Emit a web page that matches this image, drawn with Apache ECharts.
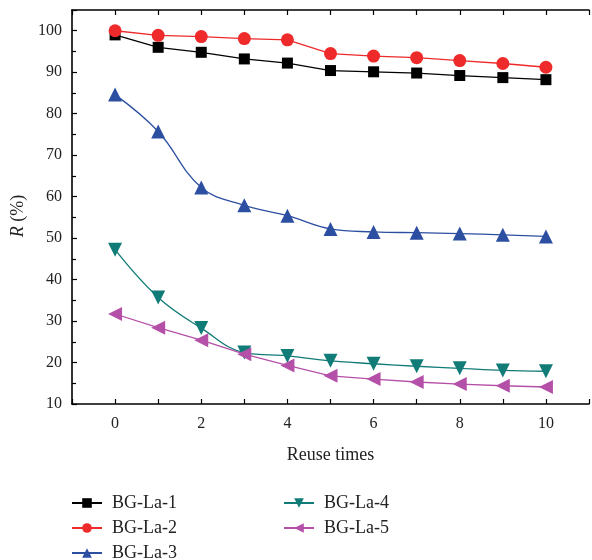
<!DOCTYPE html>
<html><head><meta charset="utf-8">
<script src="https://cdn.jsdelivr.net/npm/echarts@6/dist/echarts.min.js"></script>
<style>html,body{margin:0;padding:0;background:#fff}#c{width:592px;height:560px}</style>
</head><body><div id="c"></div>
<script>
const reuseTimes = [0,1,2,3,4,5,6,7,8,9,10];
const seriesNames = ['BG-La-1','BG-La-2','BG-La-3','BG-La-4','BG-La-5'];
const la1 = [99.0, 96.0, 94.8, 93.2, 92.2, 90.4, 90.1, 89.8, 89.2, 88.7, 88.2];
const la2 = [100.0, 98.9, 98.6, 98.1, 97.8, 94.5, 93.9, 93.5, 92.8, 92.1, 91.2];
const la3 = [84.6, 75.7, 62.2, 57.9, 55.4, 52.2, 51.5, 51.3, 51.1, 50.8, 50.4];
const la4 = [47.2, 35.7, 28.3, 22.4, 21.6, 20.4, 19.7, 19.1, 18.6, 18.1, 17.9];
const la5 = [31.7, 28.4, 25.4, 22.0, 19.3, 16.8, 16.0, 15.3, 14.8, 14.4, 14.1];
const yTickLabels = [10,20,30,40,50,60,70,80,90,100];
const xTickLabels = [0,2,4,6,8,10];

const font = 'Liberation Serif';
const pair = arr => reuseTimes.map((x,i)=>[x,arr[i]]);
const chart = echarts.init(document.getElementById('c'));
const axisCommon = {
  axisLine:{show:true,onZero:false,lineStyle:{color:'#000',width:1.6}},
  axisTick:{show:true,inside:true,length:5,lineStyle:{color:'#000',width:1.2}},
  splitLine:{show:false}
};
function mk(name, data, color, symbol, size, rot, smooth){
  return {name, type:'line', data:pair(data), symbol, symbolSize:size, symbolRotate:rot,
    smooth: smooth,
    lineStyle:{color, width:1.3}, itemStyle:{color}, z: 3};
}
const legendText = {fontFamily:font, fontSize:18, color:'#222', padding:[0,0,0,5]};
chart.setOption({
  animation:false,
  backgroundColor:'#fff',
  grid:{left:72, top:10, right:3, bottom:156},
  xAxis:[{
    type:'value', min:-1, max:11, interval:1, position:'bottom',
    ...axisCommon,
    axisLabel:{color:'#222', fontFamily:font, fontSize:16, margin:12,
      formatter:v => xTickLabels.includes(v) ? String(v) : ''},
    name:'Reuse times', nameLocation:'middle', nameGap:42,
    nameTextStyle:{color:'#222', fontFamily:font, fontSize:18}
  },{
    type:'value', min:-1, max:11, interval:1, position:'top',
    ...axisCommon, axisLabel:{show:false}
  }],
  yAxis:[{
    type:'value', min:10, max:105, interval:10,
    ...axisCommon,
    minorTick:{show:true, splitNumber:2, length:4, lineStyle:{color:'#000',width:1.2}},
    axisLabel:{color:'#222', fontFamily:font, fontSize:16, margin:10,
      formatter:v => yTickLabels.includes(v) ? String(v) : ''},
    name:'{i|R} (%)', nameLocation:'middle', nameGap:33, nameRotate:90,
    nameTextStyle:{color:'#222', fontFamily:font, fontSize:18, padding:[0,18,8,0],
      rich:{i:{fontStyle:'italic', fontFamily:font, fontSize:18, color:'#222'}}}
  }],
  legend:[{
    orient:'vertical', left:66, top:489, height:80, itemWidth:30, itemHeight:12, itemGap:7,
    data:seriesNames.slice(0,3), textStyle:legendText
  },{
    orient:'vertical', left:278, top:489, height:80, itemWidth:30, itemHeight:12, itemGap:7,
    data:seriesNames.slice(3), textStyle:legendText
  }],
  series:[
    mk(seriesNames[0], la1, '#000000', 'rect', 11, 0, false),
    mk(seriesNames[1], la2, '#ee2a2a', 'circle', 13, 0, false),
    mk(seriesNames[2], la3, '#2d4fa2', 'triangle', 14, 0, 0.4),
    mk(seriesNames[3], la4, '#117b77', 'triangle', 14, 180, 0.4),
    mk(seriesNames[4], la5, '#b550a9', 'triangle', 14, 90, false)
  ]
});
</script></body></html>
